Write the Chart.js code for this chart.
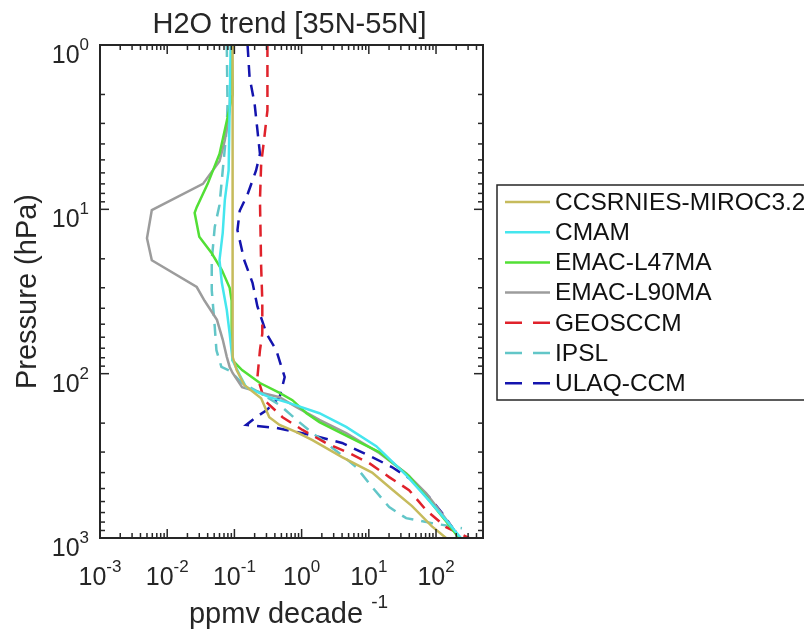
<!DOCTYPE html>
<html>
<head>
<meta charset="utf-8">
<script src="https://cdn.jsdelivr.net/npm/chart.js@4.4.1/dist/chart.umd.min.js"></script>
<style>
  html, body { margin: 0; padding: 0; background: #fff; }
  canvas { display: block; }
</style>
</head>
<body>
<canvas id="h2oChart" width="804" height="637"></canvas>
<script>
// pressure levels (hPa) and trends (ppmv/decade), top to bottom
const ccsrniesP = [1, 79, 95, 117, 141, 184, 205, 227, 254, 322, 400, 505, 640, 850, 1000];
const ccsrniesV = [0.094, 0.094, 0.108, 0.14, 0.25, 0.33, 0.47, 0.84, 1.45, 4.0, 11.2, 22, 44, 87, 141];

const cmamP = [1, 5.8, 8.8, 13.9, 20.4, 28, 41, 57, 83, 102, 121, 139, 151, 174, 211, 276, 414, 564, 778, 1000];
const cmamV = [0.088, 0.082, 0.072, 0.067, 0.060, 0.065, 0.077, 0.085, 0.094, 0.12, 0.15, 0.33, 0.66, 1.84, 4.6, 12.9, 35.9, 71, 141, 235];

const l47P = [1, 2, 4.6, 7.0, 9.7, 10.5, 14.7, 18.5, 23.4, 30, 36, 57, 83, 95, 114, 131, 145, 174, 197, 243, 300, 420, 588, 834, 1000];
const l47V = [0.091, 0.094, 0.060, 0.040, 0.0275, 0.0256, 0.030, 0.046, 0.065, 0.085, 0.091, 0.091, 0.094, 0.13, 0.24, 0.47, 0.73, 1.18, 1.84, 5.1, 14.3, 39.7, 78.7, 156, 219];

const l90P = [1, 2.5, 3.8, 5.1, 7.0, 10.1, 15, 20.4, 29.7, 36, 47, 62, 79, 91, 99, 121, 131, 139, 160, 191, 230, 304, 403, 533, 676, 859, 1000];
const l90V = [0.091, 0.085, 0.072, 0.060, 0.034, 0.0059, 0.0050, 0.0059, 0.0275, 0.036, 0.055, 0.067, 0.077, 0.085, 0.094, 0.13, 0.26, 0.47, 0.84, 1.84, 4.6, 14.3, 35.9, 71, 111, 173, 219];

const geosP = [1, 2.5, 3.6, 5.3, 8.8, 22.4, 36, 57, 72, 105, 145, 184, 220, 264, 304, 350, 426, 511, 676, 859, 1000];
const geosV = [0.31, 0.31, 0.28, 0.25, 0.24, 0.25, 0.26, 0.26, 0.24, 0.22, 0.28, 0.52, 1.03, 2.3, 5.1, 10.1, 20.1, 39.7, 71, 141, 309];

const ipslP = [1, 2.3, 3.2, 5.8, 9.4, 12.8, 20.4, 31, 52, 72, 91, 96, 114, 131, 155, 191, 230, 264, 304, 370, 490, 649, 757, 812, 871];
const ipslV = [0.077, 0.079, 0.077, 0.067, 0.060, 0.051, 0.046, 0.046, 0.051, 0.054, 0.064, 0.085, 0.13, 0.24, 0.47, 0.84, 1.45, 2.3, 3.6, 6.5, 11.2, 20.1, 35.9, 87, 243];

const ulaqP = [1, 1.57, 2.29, 3.3, 4.6, 5.8, 8.1, 10.2, 13.4, 20.4, 28, 39, 57, 72, 105, 139, 167, 184, 205, 214, 237, 264, 322, 370, 444, 564, 705, 859, 1000];
const ulaqV = [0.157, 0.168, 0.20, 0.22, 0.24, 0.21, 0.157, 0.12, 0.111, 0.14, 0.186, 0.22, 0.30, 0.42, 0.56, 0.47, 0.30, 0.21, 0.15, 0.42, 1.45, 4.0, 11.2, 22, 44, 79, 123, 173, 219];

const xDecades = [0.001, 0.01, 0.1, 1, 10, 100];
const xDecadeLabels = ["-3", "-2", "-1", "0", "1", "2"];
const yDecades = [1, 10, 100, 1000];
const yDecadeLabels = ["0", "1", "2", "3"];

const FONT = "'Liberation Sans', Arial, Helvetica, sans-serif";
const INK = "#262626";

function pts(v, p) {
  return v.map((val, i) => ({ x: val, y: p[i] }));
}

function series(label, v, p, color, dashed) {
  return {
    label,
    data: pts(v, p),
    borderColor: color,
    borderWidth: 2.5,
    borderDash: dashed ? [12, 8] : [],
    pointRadius: 0,
    showLine: true,
    fill: false,
    tension: 0
  };
}

// text with a raised exponent, like MATLAB's 10^{n}
function supText(ctx, base, sup, x, y, size, supSize, align) {
  ctx.font = `${size}px ${FONT}`;
  const wb = ctx.measureText(base).width;
  ctx.font = `${supSize}px ${FONT}`;
  const ws = ctx.measureText(sup).width;
  const total = wb + ws;
  const x0 = align === "center" ? x - total / 2 : align === "right" ? x - total : x;
  ctx.textAlign = "left";
  ctx.textBaseline = "alphabetic";
  ctx.font = `${size}px ${FONT}`;
  ctx.fillText(base, x0, y);
  ctx.font = `${supSize}px ${FONT}`;
  ctx.fillText(sup, x0 + wb, y - Math.round(size * 0.52));
}

const matlabAxes = {
  id: "matlabAxes",
  afterDraw(chart) {
    const { ctx, chartArea: a, scales: { x, y } } = chart;
    ctx.save();
    ctx.strokeStyle = INK;
    ctx.fillStyle = INK;
    ctx.setLineDash([]);

    const seg = (x1, y1, x2, y2) => {
      ctx.beginPath(); ctx.moveTo(x1, y1); ctx.lineTo(x2, y2); ctx.stroke();
    };

    // inward ticks on all four sides
    ctx.lineWidth = 1.5;
    for (const d of xDecades) {
      for (let m = 1; m <= 9; m++) {
        const v = m * d;
        if (v >= x.max * 0.999) break;
        const px = x.getPixelForValue(v);
        const len = m === 1 ? 9 : 5;
        seg(px, a.bottom, px, a.bottom - len);
        seg(px, a.top, px, a.top + len);
      }
    }
    for (const d of yDecades) {
      for (let m = 1; m <= 9; m++) {
        const v = m * d;
        if (v > y.max * 1.001) break;
        const py = y.getPixelForValue(v);
        const len = m === 1 ? 9 : 5;
        seg(a.left, py, a.left + len, py);
        seg(a.right, py, a.right - len, py);
      }
    }

    // box
    ctx.lineWidth = 2;
    ctx.strokeRect(a.left, a.top, a.right - a.left, a.bottom - a.top);

    // tick labels
    xDecades.forEach((v, i) => {
      supText(ctx, "10", xDecadeLabels[i], x.getPixelForValue(v), 585, 25, 17, "center");
    });
    yDecades.forEach((v, i) => {
      supText(ctx, "10", yDecadeLabels[i], 89, y.getPixelForValue(v) + 18, 25, 17, "right");
    });

    // title and axis titles
    ctx.font = `29px ${FONT}`;
    ctx.textAlign = "center";
    ctx.textBaseline = "alphabetic";
    ctx.fillText("H2O trend [35N-55N]", (a.left + a.right) / 2 - 2, 33);

    supText(ctx, "ppmv decade ", "-1", (a.left + a.right) / 2 - 3, 623, 29, 19, "center");

    ctx.save();
    ctx.translate(36, (a.top + a.bottom) / 2);
    ctx.rotate(-Math.PI / 2);
    ctx.font = `29px ${FONT}`;
    ctx.textAlign = "center";
    ctx.fillText("Pressure (hPa)", 0, 0);
    ctx.restore();

    // legend box, running off the right edge like the original
    const boxL = 497, boxT = 185, boxB = 400;
    ctx.lineWidth = 1.5;
    ctx.strokeStyle = INK;
    ctx.strokeRect(boxL, boxT, 360, boxB - boxT);
    chart.data.datasets.forEach((ds, i) => {
      const cy = 202 + i * 30.2;
      ctx.strokeStyle = ds.borderColor;
      ctx.lineWidth = 2.5;
      ctx.setLineDash(ds.borderDash.length ? [17, 11] : []);
      seg(505, cy, 550, cy);
      ctx.setLineDash([]);
      ctx.fillStyle = "#111";
      ctx.font = `24.5px ${FONT}`;
      ctx.textAlign = "left";
      ctx.textBaseline = "middle";
      ctx.fillText(ds.label, 555, cy + 1);
    });
    ctx.restore();
  }
};

new Chart(document.getElementById("h2oChart"), {
  type: "scatter",
  data: {
    datasets: [
      series("CCSRNIES-MIROC3.2", ccsrniesV, ccsrniesP, "#c6bb5c", false),
      series("CMAM", cmamV, cmamP, "#45e6ee", false),
      series("EMAC-L47MA", l47V, l47P, "#52df35", false),
      series("EMAC-L90MA", l90V, l90P, "#9c9c9c", false),
      series("GEOSCCM", geosV, geosP, "#e0222b", true),
      series("IPSL", ipslV, ipslP, "#62c6c8", true),
      series("ULAQ-CCM", ulaqV, ulaqP, "#1414ae", true)
    ]
  },
  options: {
    responsive: false,
    animation: false,
    layout: { padding: { top: 45, right: 321, bottom: 0, left: 0 } },
    plugins: {
      legend: { display: false },
      tooltip: { enabled: false },
      title: { display: false }
    },
    scales: {
      x: {
        type: "logarithmic",
        min: 0.001,
        max: 500,
        grid: { display: false },
        border: { display: false },
        ticks: { display: false },
        afterFit: (scale) => { scale.height = 99; }
      },
      y: {
        type: "logarithmic",
        reverse: true,
        min: 1,
        max: 1000,
        grid: { display: false },
        border: { display: false },
        ticks: { display: false },
        afterFit: (scale) => { scale.width = 100; }
      }
    }
  },
  plugins: [matlabAxes]
});
</script>
</body>
</html>
